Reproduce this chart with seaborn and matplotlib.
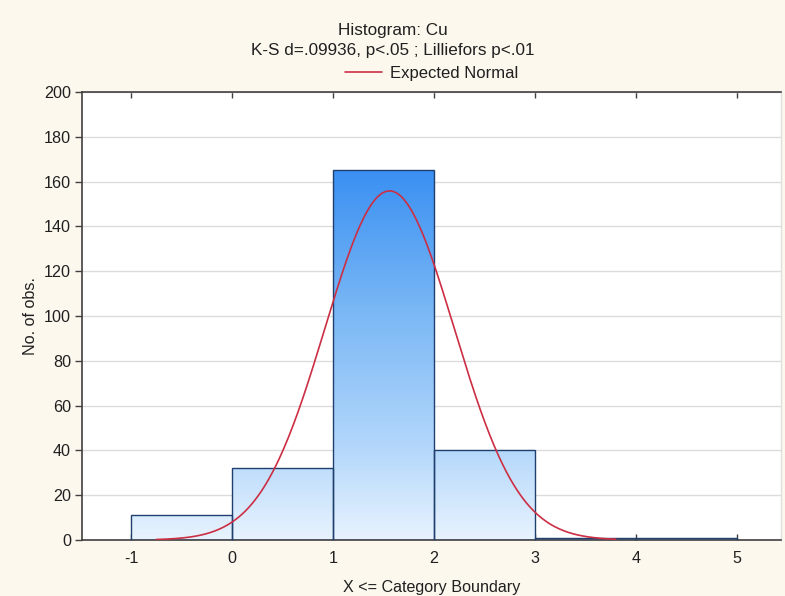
import numpy as np
import matplotlib
matplotlib.use("Agg")
import matplotlib.pyplot as plt
import seaborn as sns
from matplotlib.colors import LinearSegmentedColormap

# ---- data ----
bin_edges = [-1, 0, 1, 2, 3, 4, 5]
bin_counts = [11, 32, 165, 40, 1, 1]
x_ticks = [-1, 0, 1, 2, 3, 4, 5]
y_ticks = [0, 20, 40, 60, 80, 100, 120, 140, 160, 180, 200]
n_obs = 250
fit_mean = 1.56
fit_sd = 0.64
curve_range = (-0.75, 3.8)
title_lines = ["Histogram: Cu", "K-S d=.09936, p<.05 ; Lilliefors p<.01"]

sns.set_theme(style="white")
plt.rcParams['font.family'] = ['Liberation Sans', 'DejaVu Sans']

bg = "#FCF8EE"
fs = 11.6
fig = plt.figure(figsize=(7.85, 5.96), dpi=100, facecolor=bg)
ax = fig.add_axes([82/785, 1-540/596, (781-82)/785, (540-92)/596])
ax.set_facecolor("white")

centers = [(a + b) / 2 for a, b in zip(bin_edges[:-1], bin_edges[1:])]
sns.histplot(x=centers, weights=bin_counts, bins=bin_edges, ax=ax,
             stat="count", element="bars", fill=True,
             edgecolor="#1F3F6F", linewidth=1.0, facecolor="none", zorder=3)

cmap = LinearSegmentedColormap.from_list(
    "g", [(0.0, "#E8F3FE"), (0.25, "#B3D7FB"), (0.6, "#7DB9F5"), (1.0, "#3A90F2")])
ymax_bar = max(bin_counts)
grad = np.linspace(0, 1, 256).reshape(-1, 1)
for p in ax.patches:
    p.set_facecolor("none")
    x0 = p.get_x()
    w = p.get_width()
    im = ax.imshow(grad, cmap=cmap, origin="lower", aspect="auto",
                   extent=[x0, x0 + w, 0, ymax_bar], zorder=2, interpolation="bilinear")
    im.set_clip_path(p)

xs = np.linspace(curve_range[0], curve_range[1], 300)
ys = n_obs * 1.0 / (fit_sd * np.sqrt(2 * np.pi)) * np.exp(-0.5 * ((xs - fit_mean) / fit_sd) ** 2)
sns.lineplot(x=xs, y=ys, ax=ax, color="#CC2E44", linewidth=1.2, zorder=4,
             label="Expected Normal")

ax.set_xlim((82-232)/101, (781-232)/101)
ax.set_ylim(0, 200)
ax.set_xticks(x_ticks)
ax.set_yticks(y_ticks)
ax.set_xticklabels([str(t) for t in x_ticks])
ax.yaxis.grid(True, color="#DCDCDC", linewidth=1.0, zorder=0)
ax.xaxis.grid(False)
ax.set_axisbelow(True)

for s in ["left", "bottom", "top"]:
    ax.spines[s].set_color("#404040")
    ax.spines[s].set_linewidth(1.2)
ax.spines["right"].set_color("#E0E0E0")
ax.spines["right"].set_linewidth(1.0)

ax.tick_params(axis="y", direction="out", length=5, width=1, color="#404040",
               labelsize=fs, labelcolor="#202020", pad=3, left=True)
ax.tick_params(axis="x", direction="in", length=4, width=1, color="#404040",
               labelsize=fs, labelcolor="#202020", pad=8, bottom=True, top=True)

ax.set_xlabel("X <= Category Boundary", fontsize=fs, color="#202020", labelpad=10)
ax.set_ylabel("No. of obs.", fontsize=fs, color="#202020", labelpad=4)

fig.text(0.5, 1-30/596, title_lines[0], ha="center", va="center", fontsize=12.3, color="#202020")
fig.text(0.5, 1-51/596, title_lines[1], ha="center", va="center", fontsize=12.3, color="#202020")

leg = ax.legend(loc="center", bbox_to_anchor=(0.5, 1 + (92-73)/448), frameon=False,
                fontsize=12, handlelength=2.2, handletextpad=0.5, borderaxespad=0)
for t in leg.get_texts():
    t.set_color("#202020")

fig.savefig("out.png", dpi=100, facecolor=bg)
